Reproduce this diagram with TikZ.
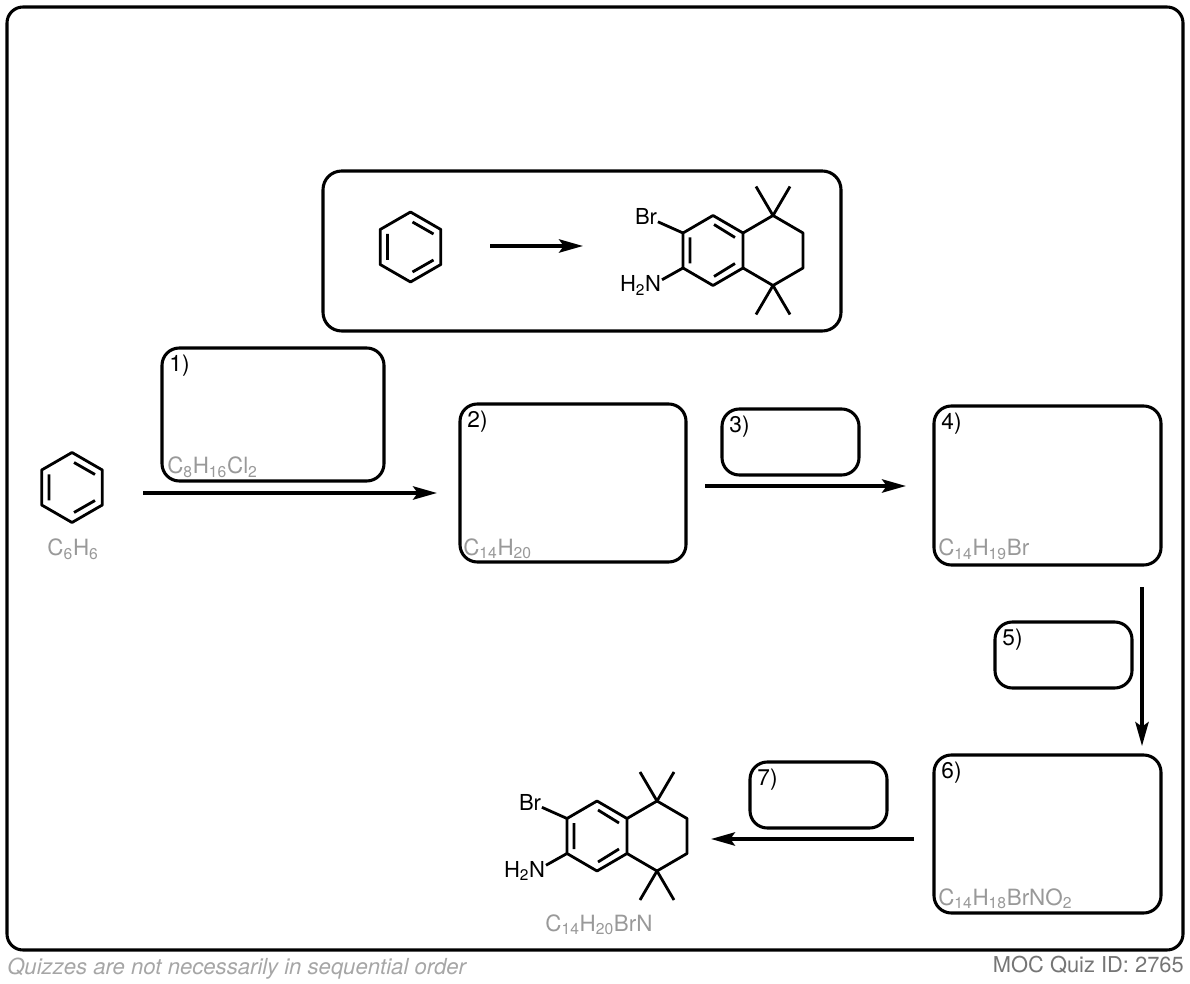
\documentclass[tikz,border=0pt]{standalone}
\usepackage{fontspec}
\setmainfont{TeX Gyre Heros}
\usetikzlibrary{arrows.meta,positioning}

\definecolor{formulagray}{HTML}{999999}
\definecolor{notegray}{HTML}{A6A6A6}
\definecolor{quizgray}{HTML}{757575}

\tikzset{
  bond/.style={line width=2.1pt,line join=round},
  reaction/.style={->,line width=2.4pt},
  bigbox/.style={draw,line width=2.3pt,rounded corners=13pt,inner sep=0pt},
  smallbox/.style={bigbox,minimum width=102.75pt,minimum height=49.5pt},
  atom/.style={inner sep=0.5pt,font=\fontsize{16.5}{18}\selectfont},
  steplabel/.style={inner sep=0pt,font=\fontsize{17}{18}\selectfont},
  formula/.style={inner sep=0pt,text=formulagray,font=\fontsize{16.8}{18}\selectfont},
  benzene/.pic={
    \draw[bond] (0,-35) -- (30.3,-17.5) -- (30.3,17.5) -- (0,35) -- (-30.3,17.5) -- (-30.3,-17.5) -- cycle;
    \draw[bond] (2,-25) -- (23,-13) (2,25) -- (23,13) (-23,-13) -- (-23,13);
  },
  aminotetralin/.pic={
    \coordinate (-c1) at (-30,-17.5);
    \coordinate (-c2) at (-30,17.5);
    \node[atom,anchor=center] (-br) at (-67,-34) {Br};
    \node[atom,anchor=east] (-amine) at (-51,35) {H\textsubscript{2}N};
    \draw[bond] (-c1) -- (0,-35) -- (30,-17.5) -- (30,17.5) -- (0,35) -- (-c2) -- cycle;
    \draw[bond] (1,-26) -- (22,-13) (1,26) -- (22,13) (-23,-13) -- (-23,13);
    \draw[bond] (30,-17.5) -- (60,-35) -- (90,-17.5) -- (90,17.5) -- (60,35) -- (30,17.5);
    \draw[bond] (43,-64) -- (60,-35) -- (77,-64) (43,64) -- (60,35) -- (77,64);
    \draw[bond] (-c1) -- (-br);
    \draw[bond] (-c2) -- (-amine.15);
  },
}

\begin{document}
\begin{tikzpicture}[x=0.75pt,y=-0.75pt,>={Stealth[length=18pt,width=10pt,inset=3.5pt]}]
  \useasboundingbox (0,0) rectangle (1190,984);
  \node[bigbox,rounded corners=12pt,minimum width=882pt,minimum height=707.25pt] (page) at (595,478.5) {};
  \node[bigbox,rounded corners=14pt,minimum width=388.5pt,minimum height=120pt] (scheme) at (582,251) {};

  % answer boxes
  \node[bigbox,minimum width=166.5pt,minimum height=99.75pt] (box1) at (273,414.5) {};
  \node[bigbox,minimum width=169.5pt,minimum height=118.5pt] (box2) at (573,483) {};
  \node[smallbox] (box3) at (790.5,442) {};
  \node[bigbox,minimum width=170.25pt,minimum height=119.25pt] (box4) at (1047.5,485.5) {};
  \node[smallbox] (box5) at (1063.5,655) {};
  \node[bigbox,minimum width=170.25pt,minimum height=118.5pt] (box6) at (1047.5,834) {};
  \node[smallbox] (box7) at (818.5,795) {};

  \node[steplabel,below right=6.5pt and 6.5pt of box1.north west,anchor=north west] (step1) {1)};
  \node[steplabel,below right=6.5pt and 6.5pt of box2.north west,anchor=north west] (step2) {2)};
  \node[steplabel,below right=6.5pt and 6.5pt of box3.north west,anchor=north west] (step3) {3)};
  \node[steplabel,below right=6.5pt and 6.5pt of box4.north west,anchor=north west] (step4) {4)};
  \node[steplabel,below right=6.5pt and 6.5pt of box5.north west,anchor=north west] (step5) {5)};
  \node[steplabel,below right=6.5pt and 6.5pt of box6.north west,anchor=north west] (step6) {6)};
  \node[steplabel,below right=6.5pt and 6.5pt of box7.north west,anchor=north west] (step7) {7)};

  \node[formula,anchor=base west] (f1) at (167,474) {C\textsubscript{8}H\textsubscript{16}Cl\textsubscript{2}};
  \node[formula,anchor=base west] (f2) at (463,555) {C\textsubscript{14}H\textsubscript{20}};
  \node[formula,anchor=base west] (f4) at (938,556) {C\textsubscript{14}H\textsubscript{19}Br};
  \node[formula,anchor=base west] (f6) at (938,905) {C\textsubscript{14}H\textsubscript{18}BrNO\textsubscript{2}};
  \node[formula,anchor=base] (f0) at (73,556) {C\textsubscript{6}H\textsubscript{6}};
  \node[formula,anchor=base] (f8) at (599,931) {C\textsubscript{14}H\textsubscript{20}BrN};

  % molecules
  \pic at (410.5,247) {benzene};
  \pic at (72,487.5) {benzene};
  \pic (goal) at (713,250.5) {aminotetralin};
  \pic (made) at (597,836) {aminotetralin};

  % arrows
  \coordinate (a0) at (490,246);
  \coordinate (a1) at (583,246);
  \coordinate (b0) at (143,493);
  \coordinate (b1) at (437,493);
  \coordinate (c0) at (705,486);
  \coordinate (c1) at (906,486);
  \coordinate (d0) at (1142,587);
  \coordinate (d1) at (1142,746);
  \coordinate (e0) at (914,839);
  \coordinate (e1) at (711,839);
  \draw[reaction] (a0) -- (a1);
  \draw[reaction] (b0) -- (b1);
  \draw[reaction] (c0) -- (c1);
  \draw[reaction] (d0) -- (d1);
  \draw[reaction] (e0) -- (e1);

  \node[inner sep=0pt,anchor=base west,text=notegray,font=\fontsize{16.6}{18}\itshape] (note) at (7,974) {Quizzes are not necessarily in sequential order};
  \node[inner sep=0pt,anchor=base east,text=quizgray,font=\fontsize{16.4}{18}\selectfont] (quizid) at (1184,972) {MOC Quiz ID: 2765};
\end{tikzpicture}
\end{document}
